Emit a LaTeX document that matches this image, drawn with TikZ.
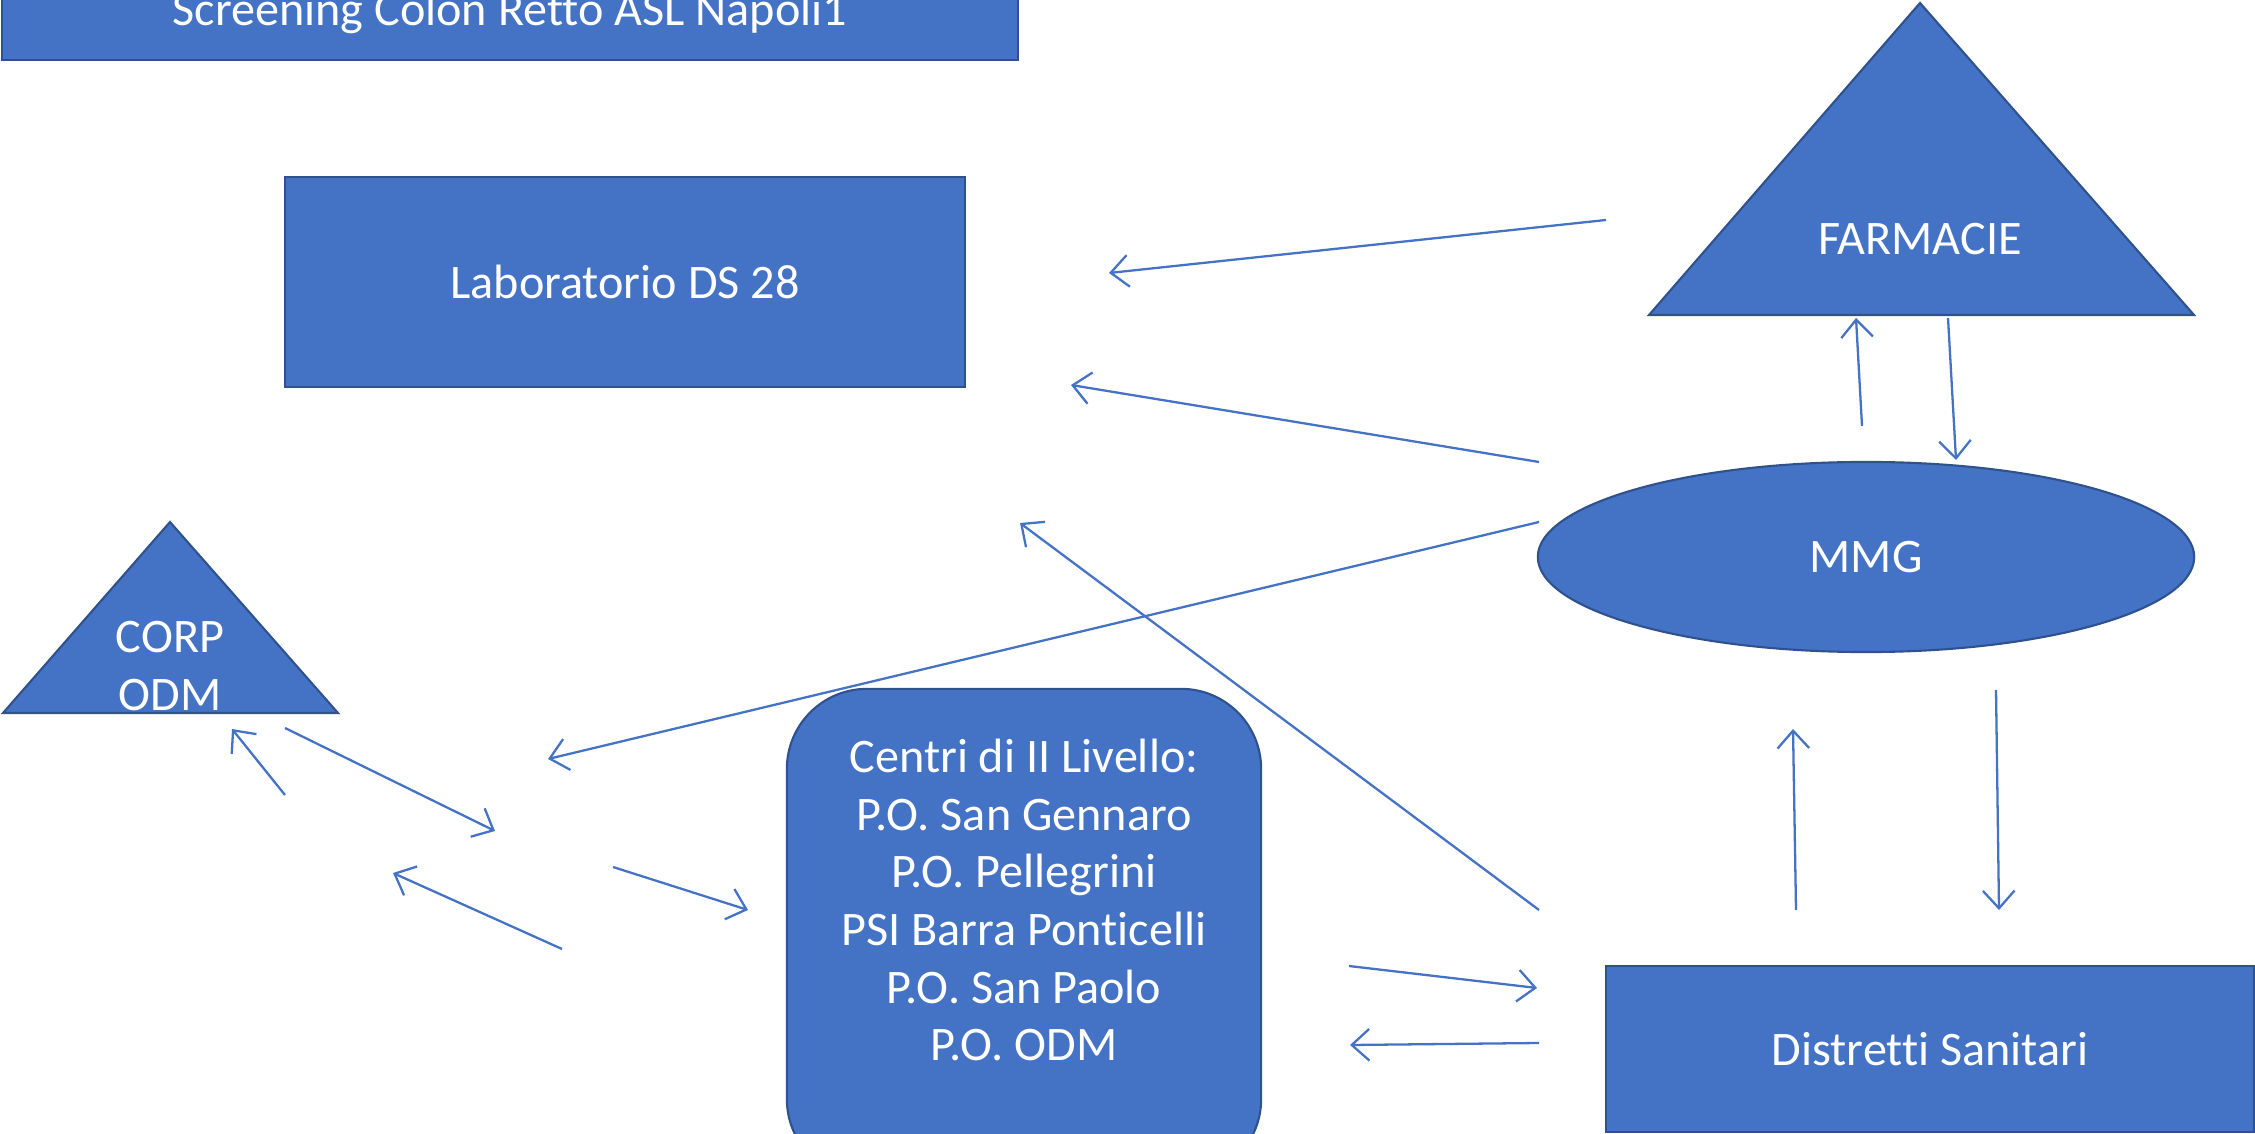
\documentclass[tikz,border=0pt]{standalone}
\usepackage{fontspec}
\setmainfont{Carlito}[Ligatures=NoCommon]
\usetikzlibrary{shapes.geometric,arrows.meta}
\definecolor{boxblue}{RGB}{68,114,196}
\definecolor{edgeblue}{RGB}{47,82,143}
\begin{document}
\begin{tikzpicture}[x=0.01cm,y=-0.01cm]
    \tikzstyle{every node}+=[inner sep=0pt, text=white, font=\fontsize{13.7}{16.4}\selectfont]
    \tikzstyle{blk}=[draw=edgeblue, fill=boxblue, line width=0.6pt]
    \tikzstyle{lnk}=[draw=boxblue, line width=0.65pt, -{Straight Barb[length=5pt,width=9pt]}]
    \useasboundingbox (0,0) rectangle (2255,1134);
    \clip (0,0) rectangle (2255,1134);
    \node [blk, minimum width=10.15cm, minimum height=0.94cm] (title) at (510,13) {Screening Colon Retto ASL Napoli1};
    \node [blk, minimum width=6.8cm, minimum height=2.09cm] (lab) at (625,282) {Laboratorio DS 28};
    \draw [blk] (1920,3) coordinate (fa) -- (2194,315) coordinate (fb) -- (1649,315) coordinate (fc) -- cycle;
    \node (farm) at (1920,239) {FARMACIE};
    \node [blk, ellipse, minimum width=6.56cm, minimum height=1.9cm] (mmg) at (1866,557) {MMG};
    \draw [blk] (170,522) coordinate (ca) -- (338,713) coordinate (cb) -- (3,713) coordinate (cc) -- cycle;
    \node [align=center] (corp) at (170,666) {CORP\\ODM};
    \node [blk, rounded corners=0.8cm, minimum width=4.74cm, minimum height=4.9cm] (centri) at (1024,934) {};
    \node [align=center] (centrilbl) at (1024,900) {Centri di II Livello:\\P.O. San Gennaro\\P.O. Pellegrini\\PSI Barra Ponticelli\\P.O. San Paolo\\P.O. ODM};
    \node [blk, minimum width=6.48cm, minimum height=1.66cm] (distr) at (1930,1049) {Distretti Sanitari};
    \coordinate (a1) at (1606,220);
    \coordinate (b1) at (1109,273);
    \draw [lnk] (a1) -- (b1);
    \coordinate (a2) at (1539,462);
    \coordinate (b2) at (1071,385);
    \draw [lnk] (a2) -- (b2);
    \coordinate (a3) at (1539,522);
    \coordinate (b3) at (548,759);
    \draw [lnk] (a3) -- (b3);
    \coordinate (a4) at (1539,910);
    \coordinate (b4) at (1020,523);
    \draw [lnk] (a4) -- (b4);
    \coordinate (a5) at (1862,426);
    \coordinate (b5) at (1856,318);
    \draw [lnk] (a5) -- (b5);
    \coordinate (a6) at (1948,318);
    \coordinate (b6) at (1956,460);
    \draw [lnk] (a6) -- (b6);
    \coordinate (a7) at (1796,910);
    \coordinate (b7) at (1793,729);
    \draw [lnk] (a7) -- (b7);
    \coordinate (a8) at (1996,690);
    \coordinate (b8) at (1999,910);
    \draw [lnk] (a8) -- (b8);
    \coordinate (a9) at (1349,966);
    \coordinate (b9) at (1537,988);
    \draw [lnk] (a9) -- (b9);
    \coordinate (a10) at (1539,1043);
    \coordinate (b10) at (1350,1045);
    \draw [lnk] (a10) -- (b10);
    \coordinate (a11) at (285,728);
    \coordinate (b11) at (495,831);
    \draw [lnk] (a11) -- (b11);
    \coordinate (a12) at (285,795);
    \coordinate (b12) at (232,729);
    \draw [lnk] (a12) -- (b12);
    \coordinate (a13) at (562,949);
    \coordinate (b13) at (393,873);
    \draw [lnk] (a13) -- (b13);
    \coordinate (a14) at (613,867);
    \coordinate (b14) at (748,910);
    \draw [lnk] (a14) -- (b14);
\end{tikzpicture}
\end{document}
